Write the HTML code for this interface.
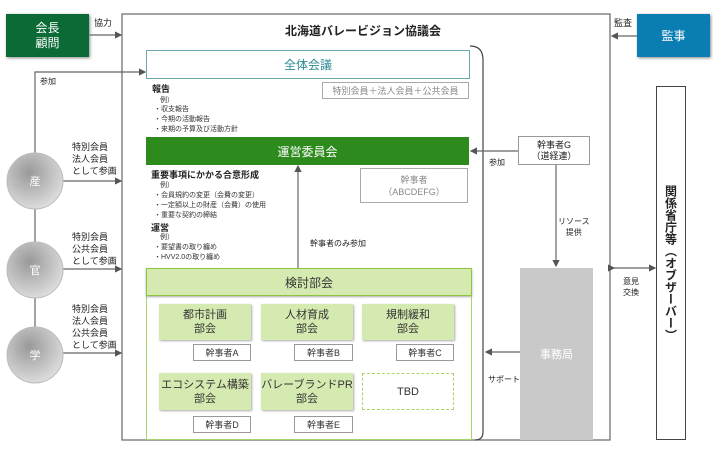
<!DOCTYPE html>
<html><head><meta charset="utf-8"><style>
body{margin:0;width:713px;height:457px;background:#fff;position:relative;overflow:hidden;font-family:"Liberation Sans","Noto Sans CJK JP",sans-serif;color:#222}
.a{position:absolute;box-sizing:border-box}
.c{display:flex;align-items:center;justify-content:center;text-align:center}
.t{position:absolute;font-size:9px;line-height:11px;white-space:nowrap}
.s{position:absolute;font-size:7px;line-height:10px;white-space:nowrap;color:#333}
.g{background:#d5eab0;box-shadow:1px 1px 2px #aaa;font-size:11px;line-height:14px;color:#333}
.k{border:1px solid #999;background:#fff;font-size:9px;color:#333}
</style></head><body>
<svg class="a" style="left:0;top:0" width="713" height="457">
<defs><marker id="m" markerWidth="6" markerHeight="6" refX="5" refY="3" orient="auto"><path d="M0,0L6,3L0,6z" fill="#555"/></marker></defs>
<g stroke="#666" stroke-width="1.2" fill="none">
<rect x="122" y="14" width="488" height="426"/>
<path d="M470,46 Q483,46 483,60 L483,432 Q483,440 475,440" stroke="#444"/>
<line x1="89" y1="35" x2="121" y2="35" marker-end="url(#m)"/>
<line x1="637" y1="36" x2="612" y2="36" marker-end="url(#m)"/>
<path d="M35,355 L35,72 L145,72" marker-end="url(#m)"/>
<line x1="63" y1="181" x2="121" y2="181" marker-end="url(#m)"/>
<line x1="63" y1="269" x2="121" y2="269" marker-end="url(#m)"/>
<line x1="63" y1="353" x2="121" y2="353" marker-end="url(#m)"/>
<line x1="298" y1="268" x2="298" y2="166" marker-end="url(#m)"/>
<line x1="518" y1="151" x2="471" y2="151" marker-end="url(#m)"/>
<line x1="556" y1="165" x2="556" y2="266" marker-end="url(#m)"/>
<line x1="520" y1="352" x2="486" y2="352" marker-end="url(#m)"/>
<line x1="614" y1="268" x2="655" y2="268" marker-end="url(#m)" marker-start="url(#m)"/>
</g>
<defs><radialGradient id="r" cx="40%" cy="35%" r="70%"><stop offset="0" stop-color="#999"/><stop offset="1" stop-color="#e0e0e0"/></radialGradient></defs>
<circle cx="35" cy="181" r="28" fill="url(#r)" stroke="#bbb"/>
<circle cx="35" cy="270" r="28" fill="url(#r)" stroke="#bbb"/>
<circle cx="35" cy="355" r="28" fill="url(#r)" stroke="#bbb"/>
</svg>
<div class="a c" style="left:27px;top:172px;width:16px;height:18px;color:#fff;font-size:11px">産</div>
<div class="a c" style="left:27px;top:261px;width:16px;height:18px;color:#fff;font-size:11px">官</div>
<div class="a c" style="left:27px;top:346px;width:16px;height:18px;color:#fff;font-size:11px">学</div>

<div class="a c" style="left:6px;top:14px;width:83px;height:43px;background:#0c6a36;color:#fff;font-size:12px;line-height:15px;box-shadow:1px 1px 3px #888">会長<br>顧問</div>
<div class="t" style="left:94px;top:18px">協力</div>
<div class="a c" style="left:637px;top:14px;width:73px;height:43px;background:#0a7db3;color:#fff;font-size:12px;box-shadow:1px 1px 3px #888">監事</div>
<div class="t" style="left:614px;top:18px">監査</div>
<div class="t" style="left:268px;top:24px;font-size:12px;font-weight:bold;line-height:14px;width:190px;text-align:center">北海道バレービジョン協議会</div>

<div class="a c" style="left:146px;top:50px;width:324px;height:29px;border:1px solid #6aa8ad;color:#2d8b96;font-size:12px">全体会議</div>
<div class="a c" style="left:322px;top:82px;width:147px;height:17px;border:1px solid #aaa;color:#888;font-size:9px">特別会員＋法人会員＋公共会員</div>
<div class="t" style="left:152px;top:84px;font-weight:bold">報告</div>
<div class="s" style="left:160px;top:96px">例）</div>
<div class="s" style="left:154px;top:105px">・収支報告</div>
<div class="s" style="left:154px;top:115px">・今期の活動報告</div>
<div class="s" style="left:154px;top:125px">・来期の予算及び活動方針</div>

<div class="a c" style="left:146px;top:137px;width:323px;height:28px;background:#2d8a1d;color:#fff;font-size:12px">運営委員会</div>
<div class="a c" style="left:360px;top:168px;width:108px;height:35px;border:1px solid #aaa;color:#888;font-size:9px;line-height:12px">幹事者<br>（ABCDEFG）</div>
<div class="t" style="left:151px;top:170px;font-weight:bold">重要事項にかかる合意形成</div>
<div class="s" style="left:160px;top:181px">例）</div>
<div class="s" style="left:154px;top:191px">・会員規約の変更（会費の変更）</div>
<div class="s" style="left:154px;top:201px">・一定額以上の財産（会費）の使用</div>
<div class="s" style="left:154px;top:211px">・重要な契約の締結</div>
<div class="t" style="left:151px;top:223px;font-weight:bold">運営</div>
<div class="s" style="left:160px;top:233px">例）</div>
<div class="s" style="left:154px;top:243px">・要望書の取り纏め</div>
<div class="s" style="left:154px;top:253px">・HVV2.0の取り纏め</div>
<div class="t" style="left:310px;top:238px;font-size:8px">幹事者のみ参加</div>

<div class="a c" style="left:518px;top:136px;width:72px;height:29px;border:1px solid #999;font-size:9px;line-height:11px">幹事者G<br>（道経連）</div>
<div class="t" style="left:489px;top:157px;font-size:8px">参加</div>
<div class="t" style="left:558px;top:216px;font-size:8px;line-height:11px;text-align:center">リソース<br>提供</div>
<div class="a c" style="left:520px;top:268px;width:73px;height:172px;background:#c9c9c9;color:#fff;font-size:11px">事務局</div>
<div class="t" style="left:488px;top:374px;font-size:8px">サポート</div>
<div class="t" style="left:623px;top:276px;font-size:8px;line-height:11px;text-align:center">意見<br>交換</div>
<div class="a c" style="left:656px;top:86px;width:30px;height:354px;border:1.5px solid #444;font-size:12px;font-weight:bold;writing-mode:vertical-rl">関係省庁等（オブザーバー）</div>

<div class="t" style="left:40px;top:76px;font-size:8px">参加</div>
<div class="t" style="left:72px;top:141px;line-height:12px">特別会員<br>法人会員<br>として参画</div>
<div class="t" style="left:72px;top:231px;line-height:12px">特別会員<br>公共会員<br>として参画</div>
<div class="t" style="left:72px;top:303px;line-height:12px">特別会員<br>法人会員<br>公共会員<br>として参画</div>

<div class="a" style="left:146px;top:268px;width:326px;height:172px;border:1px solid #a8d46a"></div>
<div class="a c" style="left:146px;top:268px;width:326px;height:28px;background:#d5eab0;border:1px solid #8cc63f;font-size:12px;color:#333;box-shadow:0 1px 2px #aaa">検討部会</div>
<div class="a c g" style="left:159px;top:304px;width:92px;height:36px">都市計画<br>部会</div>
<div class="a c g" style="left:261px;top:304px;width:92px;height:36px">人材育成<br>部会</div>
<div class="a c g" style="left:362px;top:304px;width:92px;height:36px">規制緩和<br>部会</div>
<div class="a c k" style="left:193px;top:344px;width:58px;height:17px">幹事者A</div>
<div class="a c k" style="left:294px;top:344px;width:59px;height:17px">幹事者B</div>
<div class="a c k" style="left:396px;top:344px;width:58px;height:17px">幹事者C</div>
<div class="a c g" style="left:159px;top:373px;width:92px;height:37px">エコシステム構築<br>部会</div>
<div class="a c g" style="left:261px;top:373px;width:92px;height:37px">バレーブランドPR<br>部会</div>
<div class="a c" style="left:362px;top:373px;width:92px;height:37px;border:1.5px dashed #a8d46a;font-size:11px;color:#333">TBD</div>
<div class="a c k" style="left:193px;top:416px;width:58px;height:17px">幹事者D</div>
<div class="a c k" style="left:294px;top:416px;width:59px;height:17px">幹事者E</div>
</body></html>
